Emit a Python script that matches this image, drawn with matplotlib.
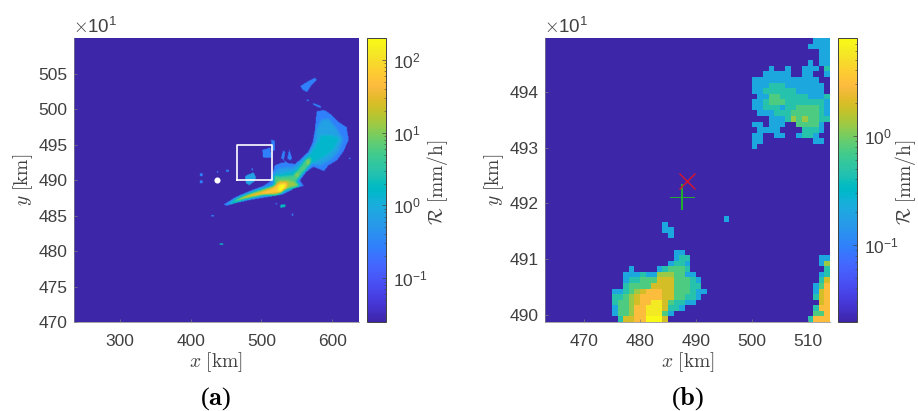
import numpy as np
import matplotlib
matplotlib.use('agg')
import matplotlib.pyplot as plt
from matplotlib.colors import LinearSegmentedColormap, LogNorm
from matplotlib.path import Path
from matplotlib.ticker import LogLocator, NullFormatter

plt.rcParams['font.family'] = ['Liberation Sans', 'DejaVu Sans']
plt.rcParams['mathtext.fontset'] = 'cm'

FIG_W, FIG_H = 918, 411
TEXT_COL = '#404040'

# MATLAB parula colour table
PARULA = [
    (0.2422, 0.1504, 0.6603), (0.2504, 0.1650, 0.7076), (0.2578, 0.1818, 0.7511), (0.2647, 0.1978, 0.7952),
    (0.2706, 0.2147, 0.8364), (0.2751, 0.2342, 0.8710), (0.2783, 0.2559, 0.8991), (0.2803, 0.2782, 0.9221),
    (0.2813, 0.3006, 0.9414), (0.2810, 0.3228, 0.9579), (0.2795, 0.3447, 0.9717), (0.2760, 0.3667, 0.9829),
    (0.2699, 0.3892, 0.9906), (0.2602, 0.4123, 0.9952), (0.2440, 0.4358, 0.9988), (0.2206, 0.4603, 0.9973),
    (0.1963, 0.4847, 0.9892), (0.1834, 0.5074, 0.9798), (0.1786, 0.5289, 0.9682), (0.1764, 0.5499, 0.9520),
    (0.1687, 0.5703, 0.9359), (0.1540, 0.5902, 0.9218), (0.1460, 0.6091, 0.9079), (0.1380, 0.6276, 0.8973),
    (0.1248, 0.6459, 0.8883), (0.1113, 0.6635, 0.8763), (0.0952, 0.6798, 0.8598), (0.0689, 0.6948, 0.8394),
    (0.0297, 0.7082, 0.8163), (0.0036, 0.7203, 0.7917), (0.0067, 0.7312, 0.7660), (0.0433, 0.7411, 0.7394),
    (0.0964, 0.7500, 0.7120), (0.1408, 0.7584, 0.6842), (0.1717, 0.7670, 0.6554), (0.1938, 0.7758, 0.6251),
    (0.2161, 0.7843, 0.5923), (0.2470, 0.7918, 0.5567), (0.2906, 0.7973, 0.5188), (0.3406, 0.8008, 0.4789),
    (0.3909, 0.8029, 0.4354), (0.4456, 0.8024, 0.3909), (0.5044, 0.7993, 0.3480), (0.5616, 0.7942, 0.3045),
    (0.6174, 0.7876, 0.2612), (0.6720, 0.7793, 0.2227), (0.7242, 0.7698, 0.1910), (0.7738, 0.7598, 0.1646),
    (0.8203, 0.7498, 0.1535), (0.8634, 0.7406, 0.1596), (0.9035, 0.7330, 0.1774), (0.9393, 0.7288, 0.2100),
    (0.9728, 0.7298, 0.2394), (0.9956, 0.7434, 0.2371), (0.9970, 0.7659, 0.2199), (0.9952, 0.7893, 0.2028),
    (0.9892, 0.8136, 0.1885), (0.9786, 0.8386, 0.1766), (0.9676, 0.8639, 0.1643), (0.9610, 0.8890, 0.1537),
    (0.9597, 0.9135, 0.1423), (0.9628, 0.9373, 0.1265), (0.9691, 0.9606, 0.1064), (0.9769, 0.9839, 0.0805),
]

# panel (a): rain outlines in axis units, (rain rate, outline), low rates first
RAIN_A_BANDS = [
    (0.28, [(447, 486.6), (465, 487.7), (484, 488.5), (503, 489.2), (512, 489.8), (516, 491.0), (519, 492.1),
            (529, 492.5), (548, 492.3), (557, 493.1), (566.5, 494.0), (573, 495.4), (576, 497.1), (578, 499.2),
            (579, 499.8), (590, 499.9), (600, 499.2), (609, 498.3), (621, 497.5), (624, 495.7), (616, 494.0),
            (607, 492.8), (595, 492.1), (589, 491.3), (574, 491.9), (564, 491.2), (555, 490.0), (560, 489.2),
            (548, 488.9), (531, 488.0), (508, 487.6), (484, 487.2), (465, 486.8), (451, 486.4)]),
    (0.28, [(555, 503.3), (566.4, 504.0), (576, 504.5), (579, 504.2), (571, 503.4), (565, 502.5), (559.4, 502.7)]),
    (0.28, [(564, 501.4), (567.4, 501.4), (567.4, 501.2), (564, 501.2)]),
    (0.28, [(573.5, 500.9), (585, 500.5), (584, 500.2), (573, 500.7)]),
    (0.28, [(501.4, 494.3), (513, 494.6), (514.6, 493.2), (502.8, 493.2)]),
    (0.28, [(513.6, 495.7), (518.8, 495.6), (518.8, 494.2), (514.6, 494.2)]),
    (0.28, [(527.8, 493.1), (531, 494.2), (534, 494.0), (532, 492.9)]),
    (0.28, [(536.7, 493.1), (539.6, 494.3), (543.8, 493.1), (540.5, 492.8)]),
    (0.28, [(531, 492.9), (542.9, 492.1), (536.7, 492.1)]),
    (0.28, [(450, 491.5), (454.2, 491.5), (454.2, 491.2), (450, 491.2)]),
    (0.28, [(437, 491.3), (439, 491.3), (439, 491.1), (437, 491.1)]),
    (0.28, [(413.2, 491.0), (416.5, 491.0), (416.5, 490.6), (413.2, 490.6)]),
    (0.28, [(413.2, 490.0), (416.5, 490.0), (416.5, 489.6), (413.2, 489.6)]),
    (0.28, [(486.3, 491.7), (488.6, 491.7), (488.6, 491.4), (486.3, 491.4)]),
    (0.28, [(543, 485.3), (545.7, 485.3), (545.7, 485.0), (543, 485.0)]),
    (0.28, [(428.8, 485.1), (433, 485.1), (433, 484.9), (428.8, 484.9)]),
    (0.28, [(520, 486.8), (522, 486.8), (522, 486.6), (520, 486.6)]),
    (0.28, [(624, 493.2), (626, 493.2), (626, 493.0), (624, 493.0)]),
    (0.7, [(569, 494.0), (576, 495.4), (578, 497.1), (585, 498.5), (595, 498.7), (607, 497.3), (616, 495.7),
           (609, 494.0), (597, 492.8), (583, 492.1), (569, 492.4), (559, 491.4), (550, 490.3), (531, 489.3),
           (515, 489.3), (519, 491.2), (526, 491.7), (545, 491.8), (557, 492.8)]),
    (0.7, [(477, 490.6), (488.6, 491.1), (492.4, 490.5), (491, 489.9), (483, 489.3), (478.3, 489.6)]),
    (1.5, [(576, 494.7), (585, 496.4), (600, 496.4), (611, 495.9), (604, 494.5), (590, 493.3), (576, 492.6),
           (564, 491.9), (555, 490.5), (538, 489.3), (519, 489.3), (519, 490.7), (531, 491.0), (550, 491.4),
           (564, 493.1)]),
    (1.9, [(526.4, 486.5), (534.8, 486.6), (533.4, 486.2), (527.3, 486.1)]),
    (1.9, [(441.5, 481.1), (446, 481.1), (446, 480.9), (441.5, 480.9)]),
    (5.5, [(519, 489.3), (518, 490.7), (526, 490.5), (545, 490.7), (555, 491.9), (564, 493.1), (571, 493.2),
           (569, 492.1), (559, 491.0), (550, 489.8), (555, 489.2), (536, 488.6), (522, 487.9), (498, 487.9),
           (470, 487.2), (453, 486.6), (465, 487.4), (489, 488.4), (508, 489.0)]),
    (13, [(456, 486.7), (475, 487.8), (498, 488.5), (519, 489.3), (526, 490.0), (538, 490.0), (545, 489.8),
          (555, 489.3), (538, 488.9), (524, 488.1), (503, 487.9), (475, 487.3)]),
    (13, [(565, 492.9), (570, 492.8), (568, 492.1), (564, 492.4)]),
    (13, [(548, 490.9), (554, 491.0), (552, 490.5), (548, 490.5)]),
    (30, [(463, 487.0), (479, 487.8), (498, 488.3), (515, 489.0), (526, 489.8), (537, 489.8), (538, 489.1),
          (526, 488.2), (503, 488.0), (479, 487.4)]),
    (65, [(479, 487.7), (498, 488.1), (517, 488.8), (526, 489.6), (536, 489.6), (535, 489.0), (524, 488.2),
          (508, 488.0), (491, 487.8)]),
    (190, [(523, 488.6), (525.5, 489.3), (535, 489.6), (534, 489.0), (528, 488.2)]),
]
NO_RAIN = 0.001
SMOOTH_CELLS = 5

# panel (b): cell grid, row number from the top -> (first column, cell levels)
RAIN_B_LEVELS = {'b': 0.21, 't': 0.47, 'g': 0.75, 'l': 1.25, 'o': 1.9, 'r': 3.0, 'y': 6.0, 'Y': 7.7}
RAIN_B_RUNS = {
    0: [(48, 'bbb')],
    1: [(47, 'bbbb')],
    2: [(49, 'bb')],
    3: [(49, 'bb')],
    4: [(47, 'b'), (49, 'bb')],
    5: [(40, 'b'), (43, 'b'), (46, 'bbb'), (50, 't')],
    6: [(39, 'bbbbb'), (46, 'bb'), (50, 'b')],
    7: [(37, 'bbbbbbbbbbbb')],
    8: [(37, 'bbb'), (40, 'ttt'), (43, 'bbbbbbb')],
    9: [(37, 'bb'), (39, 'tttttt'), (45, 'bbbbb')],
    10: [(38, 'bb'), (40, 'gg'), (42, 'ttttt'), (47, 'bbb'), (50, 't')],
    11: [(37, 'bb'), (39, 't'), (40, 'ggg'), (43, 'ttttttt'), (50, 'b')],
    12: [(37, 'bb'), (39, 'ttt'), (42, 'b'), (43, 'tt'), (45, 'gggg'), (49, 't'), (50, 'b')],
    13: [(38, 'bbb'), (41, 'ttt'), (44, 'ggggg'), (49, 'tb')],
    14: [(40, 'bbb'), (43, 't'), (44, 'l'), (45, 'g'), (46, 'l'), (47, 'gg'), (49, 'tt')],
    15: [(37, 'bb'), (40, 'bbb'), (45, 'gggg'), (49, 'b')],
    16: [(38, 'bbbb'), (46, 'ttt'), (49, 'b')],
    17: [(37, 'bb'), (41, 'bb'), (45, 'b'), (46, 'tt'), (48, 'b')],
    18: [(37, 'bb'), (48, 'bb')],
    19: [(37, 'b')],
    32: [(32, 'b')],
    33: [(21, 'b')],
    34: [(21, 'bb')],
    35: [(22, 'b')],
    38: [(23, 'bb')],
    39: [(23, 'btt'), (49, 'bb')],
    40: [(22, 'bttb'), (49, 'b'), (50, 'l')],
    41: [(15, 'b'), (20, 'btgggt'), (50, 't')],
    42: [(14, 'bbb'), (17, 't'), (18, 'bb'), (20, 'lll'), (23, 'gg'), (25, 'bb'), (49, 'b'), (50, 't')],
    43: [(14, 'b'), (15, 'ttggg'), (20, 'ooo'), (23, 'ggg'), (26, 'tb'), (49, 't'), (50, 'o')],
    44: [(14, 't'), (15, 'gggg'), (19, 'oooo'), (23, 'ggg'), (26, 'tt'), (48, 'b'), (49, 'g'), (50, 'r')],
    45: [(12, 'bb'), (14, 't'), (15, 'glo'), (18, 'rrr'), (21, 'oo'), (23, 'ggg'), (26, 't'), (27, 'bb'),
         (48, 'b'), (49, 'o'), (50, 'r')],
    46: [(12, 'tt'), (14, 'glo'), (17, 'rrrr'), (21, 'oo'), (23, 'ggtt'), (27, 'b'), (48, 't'), (49, 'or')],
    47: [(12, 'tg'), (14, 'glo'), (17, 'rryy'), (21, 'o'), (22, 'g'), (23, 'ttbb'), (49, 'or')],
    48: [(12, 'b'), (13, 'ggl'), (16, 'rr'), (18, 'yyy'), (21, 'o'), (22, 'ttb'), (48, 't'), (49, 'rr')],
    49: [(12, 'b'), (13, 'ggl'), (16, 'rr'), (18, 'yyy'), (21, 'g'), (22, 'b'), (48, 'gg'), (50, 'r')],
    50: [(13, 't'), (14, 'oo'), (16, 'rr'), (18, 'YYY'), (21, 'o'), (47, 't'), (48, 'rrr')],
}
B_ROWS, B_COLS = 51, 51

XTICKS_A = [300, 400, 500, 600]
YTICKS_A = [470, 475, 480, 485, 490, 495, 500, 505]
XTICKS_B = [470, 480, 490, 500, 510]
YTICKS_B = [490, 491, 492, 493, 494]
XLIM_A, YLIM_A = (235, 638), (470, 510.06)
XLIM_B, YLIM_B = (463, 514), (489.87, 494.97)
CLIM_A, CLIM_B = (0.025, 200), (0.0197, 7.9)

BOX_X = [465, 515, 515, 465, 465]
BOX_Y = [490, 490, 495, 495, 490]
DOT_X, DOT_Y = 437, 490
CROSS_X, CROSS_Y = 488.5, 492.4
PLUS_X, PLUS_Y = 487.6, 492.11
PLUS_DX, PLUS_DY = 2.15, 0.215


def px_axes(fig, left, top, right, bottom):
    return fig.add_axes([left / FIG_W, 1 - bottom / FIG_H, (right - left) / FIG_W, (bottom - top) / FIG_H])


def px_text(fig, x, y, s, **kw):
    kw.setdefault('color', TEXT_COL)
    fig.text(x / FIG_W, 1 - y / FIG_H, s, ha='center', va='center', **kw)


def style_map(ax, xticks, yticks):
    ax.set_xticks(xticks)
    ax.set_yticks(yticks)
    ax.tick_params(direction='in', length=2.5, width=0.5, color='#808080', labelsize=12.5, labelcolor=TEXT_COL)
    ax.tick_params(axis='x', pad=8.5)
    ax.tick_params(axis='y', pad=4.5)
    for name in ['top', 'right']:
        ax.spines[name].set_visible(False)
    for name in ['left', 'bottom']:
        ax.spines[name].set_color('#808080')
        ax.spines[name].set_linewidth(0.5)


def add_cbar(fig, cax, mappable):
    cb = fig.colorbar(mappable, cax=cax)
    cb.outline.set_edgecolor('#404040')
    cb.outline.set_linewidth(0.7)
    cax.yaxis.set_major_locator(LogLocator(base=10, numticks=12))
    cax.yaxis.set_minor_locator(LogLocator(base=10, subs=np.arange(2, 10), numticks=12))
    cax.yaxis.set_minor_formatter(NullFormatter())
    cax.tick_params(which='major', direction='in', length=3, width=0.5, color='#404040',
                    labelsize=12.5, labelcolor=TEXT_COL, pad=5)
    cax.tick_params(which='minor', direction='in', length=1.5, width=0.4, color='#404040')
    return cb


def box_smooth(values, size):
    kernel = np.ones(size) / size
    out = np.apply_along_axis(lambda r: np.convolve(r, kernel, mode='same'), 0, values)
    return np.apply_along_axis(lambda r: np.convolve(r, kernel, mode='same'), 1, out)


def rasterize_bands(bands, xlim, ylim, nx, ny):
    xs = np.linspace(xlim[0], xlim[1], nx)
    ys = np.linspace(ylim[0], ylim[1], ny)
    grid_x, grid_y = np.meshgrid(xs, ys)
    points = np.column_stack([grid_x.ravel(), grid_y.ravel()])
    field = np.full(grid_x.shape, NO_RAIN)
    for rate, outline in bands:
        inside = Path(outline + outline[:1]).contains_points(points).reshape(grid_x.shape)
        field[inside] = rate
    # rain cells only, so the edges against the dry area stay sharp
    wet = field > NO_RAIN
    weight = box_smooth(wet.astype(float), SMOOTH_CELLS)
    level = box_smooth(np.where(wet, np.log10(field), 0.0), SMOOTH_CELLS)
    field[wet] = 10.0 ** (level[wet] / weight[wet])
    return field


cmap = LinearSegmentedColormap.from_list('parula', PARULA, N=256)

fig = plt.figure(figsize=(FIG_W / 100, FIG_H / 100), dpi=100)

# panel (a)
rain_a = rasterize_bands(RAIN_A_BANDS, XLIM_A, YLIM_A, 403, 401)
ax_a = px_axes(fig, 74, 38, 359, 322)
im_a = ax_a.imshow(rain_a, cmap=cmap, norm=LogNorm(*CLIM_A), origin='lower', interpolation='bilinear',
                   extent=[XLIM_A[0], XLIM_A[1], YLIM_A[0], YLIM_A[1]], aspect='auto')
ax_a.plot(BOX_X, BOX_Y, color='white', lw=1.2)
ax_a.plot([DOT_X], [DOT_Y], 'o', color='white', ms=4.4, mew=0)
ax_a.set_xlim(*XLIM_A)
ax_a.set_ylim(*YLIM_A)
style_map(ax_a, XTICKS_A, YTICKS_A)
add_cbar(fig, px_axes(fig, 367, 38, 386, 322), im_a)

# panel (b)
rain_b = np.full((B_ROWS, B_COLS), NO_RAIN)
for row, runs in RAIN_B_RUNS.items():
    for start, cells in runs:
        for i, c in enumerate(cells):
            rain_b[row, start + i] = RAIN_B_LEVELS[c]
ax_b = px_axes(fig, 545, 38, 830, 322)
im_b = ax_b.imshow(rain_b, cmap=cmap, norm=LogNorm(*CLIM_B), origin='upper', interpolation='nearest',
                   extent=[XLIM_B[0], XLIM_B[1], YLIM_B[0], YLIM_B[1]], aspect='auto')
ax_b.plot([PLUS_X, PLUS_X], [PLUS_Y - PLUS_DY, PLUS_Y + PLUS_DY], color='#22b02c', lw=1.4)
ax_b.plot([PLUS_X - PLUS_DX, PLUS_X + PLUS_DX], [PLUS_Y, PLUS_Y], color='#22b02c', lw=0.7)
ax_b.plot([CROSS_X], [CROSS_Y], 'x', color='#d9152d', ms=11.5, mew=1.0)
ax_b.set_xlim(*XLIM_B)
ax_b.set_ylim(*YLIM_B)
style_map(ax_b, XTICKS_B, YTICKS_B)
add_cbar(fig, px_axes(fig, 838, 38, 857, 322), im_b)

# labels
LABEL_SIZE = 14
for x0, ycx, cbx, xc, tag in [(74, 23, 438, 216, '(a)'), (545, 494, 906, 688, '(b)')]:
    px_text(fig, xc, 362, r'$x\ [\mathrm{km}]$', fontsize=LABEL_SIZE)
    px_text(fig, ycx, 180, r'$y\ [\mathrm{km}]$', fontsize=LABEL_SIZE, rotation=90)
    px_text(fig, cbx, 182, r'$\mathcal{R}\ [\mathrm{mm/h}]$', fontsize=LABEL_SIZE, rotation=90)
    px_text(fig, x0 + 21, 27, r'$\times\mathregular{10^{1}}$', fontsize=13.5)
    px_text(fig, xc, 399, '(' + r'$\mathbf{' + tag[1] + '}$' + ')', fontsize=19,
            color='black', family=['Liberation Serif', 'DejaVu Serif'])

fig.savefig('out.png', dpi=100)
